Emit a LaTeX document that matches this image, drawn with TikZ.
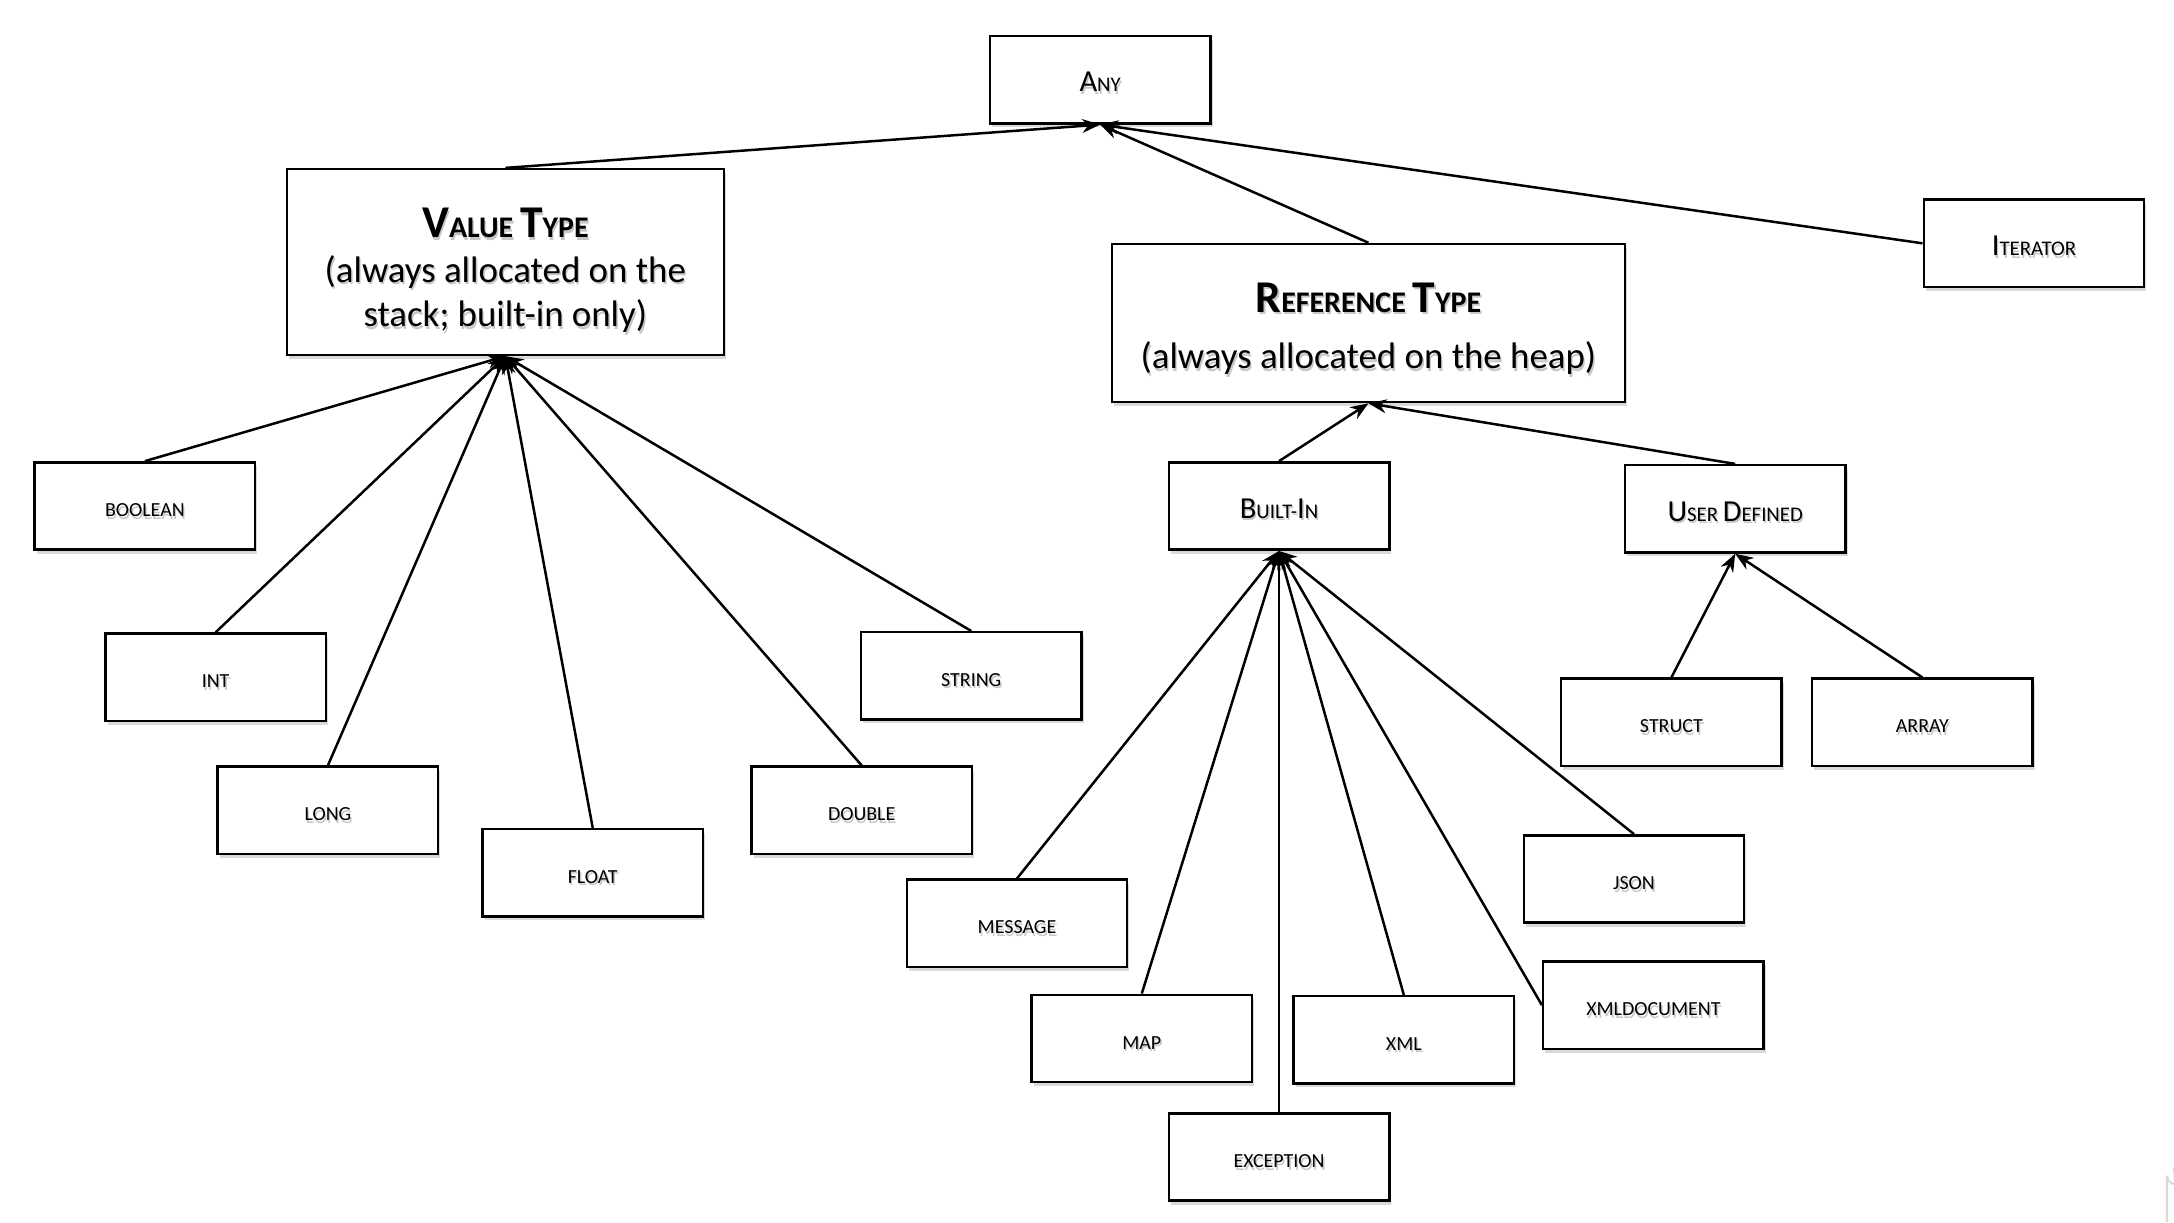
\documentclass[tikz,border=0pt]{standalone}
\usepackage{fontspec}
\setmainfont{Carlito}
\usetikzlibrary{arrows.meta,shadows}
\newcommand\shd[1]{\leavevmode\rlap{\raisebox{-0.9pt}{\hspace{0.5pt}\textcolor{black!22}{#1}}}#1}
\newcommand\lwbig[1]{\raisebox{-4.4pt}[0pt][0pt]{\shd{#1}}}
\newcommand\lwsm[1]{\raisebox{-3.8pt}[0pt][0pt]{\shd{#1}}}
\newcommand\bigc{\fontsize{11}{13}\selectfont}
\newcommand\smc{\fontsize{7.5}{9}\selectfont}
\newcommand\tinyc{\fontsize{7.2}{9}\selectfont}
\newcommand\hbig{\fontsize{16.4}{16}\selectfont\bfseries}
\newcommand\hsmall{\fontsize{10.8}{16}\selectfont\bfseries}
\tikzset{
  box/.style={draw=black, line width=0.9pt, fill=white, inner sep=0pt,
    minimum width=79.5pt, minimum height=31.5pt, align=center,
    drop shadow={shadow xshift=0.8pt, shadow yshift=-1.4pt, opacity=0.25, fill=black!60}},
  bigbox/.style={box},
  bigtext/.style={inner sep=0pt, align=center, font=\fontsize{13.3}{16}\selectfont},
  conn/.style={line width=0.9pt, -{Stealth[length=6.5pt,width=5pt]}},
}
\begin{document}
\begin{tikzpicture}[x=0.5pt,y=-0.5pt]
\useasboundingbox (0,0) rectangle (1568,881.4);
% top
\node[box] (any) at (793.5,57.5) {\lwbig{\bigc A\smc NY}};
\node[bigbox, minimum width=157.5pt, minimum height=67pt] (value) at (364.5,189) {};
\node[bigtext] (valuetext) at (364.5,196)
  {\shd{\hbig V\hsmall ALUE \hbig T\hsmall YPE}\\
   \shd{(always allocated on the}\\
   \shd{stack; built-in only)}};
\node[bigbox, minimum width=185pt, minimum height=57pt] (ref) at (987,233) {};
\node[bigtext] (reftext) at (987,238)
  {\shd{\hbig R\hsmall EFERENCE \hbig T\hsmall YPE}\\[4.5pt]
   \shd{(always allocated on the heap)}};
\node[box] (iter) at (1467,175.5) {\lwbig{\bigc I\smc TERATOR}};
% value children
\node[box] (boolean) at (104.5,365) {\lwsm{\tinyc BOOLEAN}};
\node[box] (int) at (155.5,488.5) {\lwsm{\tinyc INT}};
\node[box] (long) at (236.5,584.5) {\lwsm{\tinyc LONG}};
\node[box] (float) at (427.5,629.5) {\lwsm{\tinyc FLOAT}};
\node[box] (double) at (621.5,584.5) {\lwsm{\tinyc DOUBLE}};
\node[box] (string) at (700.5,487.5) {\lwsm{\tinyc STRING}};
% reference children
\node[box] (builtin) at (922.5,365) {\lwbig{\bigc B\smc UILT-\bigc I\smc N}};
\node[box] (user) at (1251.5,367) {\lwbig{\bigc U\smc SER \bigc D\smc EFINED}};
\node[box] (struct) at (1205.5,521) {\lwsm{\tinyc STRUCT}};
\node[box] (array) at (1386.5,521) {\lwsm{\tinyc ARRAY}};
\node[box] (message) at (733.5,666) {\lwsm{\tinyc MESSAGE}};
\node[box] (map) at (823.5,749) {\lwsm{\tinyc MAP}};
\node[box] (exception) at (922.5,834.5) {\lwsm{\tinyc EXCEPTION}};
\node[box] (xml) at (1012.5,750) {\lwsm{\tinyc XML}};
\node[box] (xmldoc) at (1192.5,725) {\lwsm{\tinyc XMLDOCUMENT}};
\node[box] (json) at (1178.5,634) {\lwsm{\tinyc JSON}};
% connectors
\draw[conn] (value.north) -- (any.south);
\draw[conn] (ref.north) -- (any.south);
\draw[conn] (iter.west) -- (any.south);
\foreach \c in {boolean,int,long,float,double,string}
  \draw[conn] (\c.north) -- (value.south);
\draw[conn] (builtin.north) -- (ref.south);
\draw[conn] (user.north) -- (ref.south);
\foreach \c in {message,map,exception,xml,json}
  \draw[conn] (\c.north) -- (builtin.south);
\draw[conn] (xmldoc.west) -- (builtin.south);
\draw[conn] (struct.north) -- (user.south);
\draw[conn] (array.north) -- (user.south);
% window corner artifact
\draw[black!15, line width=0.8pt] (1563,881.4) -- (1563,848) arc[start angle=180,end angle=90,radius=6] -- (1568,842);
\end{tikzpicture}
\end{document}
